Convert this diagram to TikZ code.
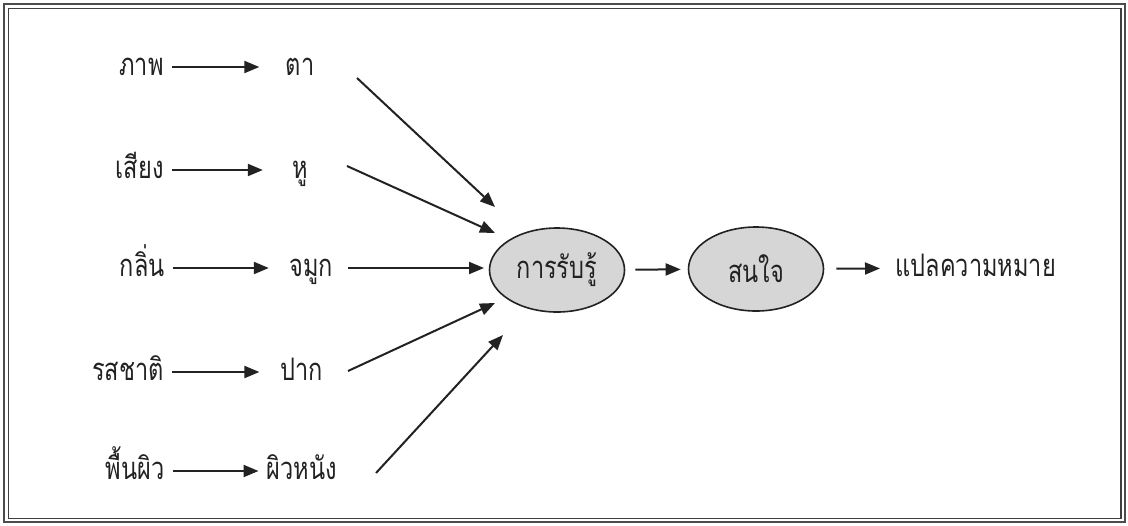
\documentclass[tikz,border=0pt]{standalone}
\usepackage{fontspec}
\newfontfamily\thaifont[Script=Thai,FakeStretch=0.76]{Loma}
\usetikzlibrary{arrows.meta,shapes.geometric}
\definecolor{ink}{HTML}{222222}
\definecolor{ovalfill}{HTML}{D6D6D6}
\tikzset{
  lbl/.style={font=\thaifont\fontsize{15.5}{18}\selectfont, text=ink, inner sep=0pt, text height=10pt, text depth=2pt},
  arr/.style={draw=ink, line width=1pt, -{Triangle[length=7.5pt,width=6pt]}},
  oval/.style={ellipse, draw=ink, line width=0.8pt, fill=ovalfill, minimum width=67.5pt, minimum height=42pt, inner sep=0pt, font=\thaifont\fontsize{15.5}{18}\selectfont, text=ink},
}
\begin{document}
\begin{tikzpicture}[x=0.5pt,y=-0.5pt]
\useasboundingbox (0,0) rectangle (1128,525);
\fill[white] (0,0) rectangle (1128,525);
% frame
\draw[draw=black!70, line width=1.1pt] (4,4) rectangle (1125,522);
\draw[draw=black!75, line width=0.6pt] (8.5,8.5) rectangle (1121,518.5);
% left column
\node[lbl, anchor=east] (s1) at (164,67) {ภาพ};
\node[lbl, anchor=east] (s2) at (164,170) {เสียง};
\node[lbl, anchor=east] (s3) at (165,268) {กลิ่น};
\node[lbl, anchor=east] (s4) at (164,372) {รสชาติ};
\node[lbl, anchor=east] (s5) at (165,471) {พื้นผิว};
% organs
\node[lbl] (o1) at (300,67) {ตา};
\node[lbl] (o2) at (300,170) {หู};
\node[lbl] (o3) at (311,268) {จมูก};
\node[lbl] (o4) at (302,372) {ปาก};
\node[lbl] (o5) at (302,471) {ผิวหนัง};
% ovals
\node[oval] (perc) at (557,270) {การรับรู้};
\node[oval] (att) at (756,269) {สนใจ};
\node[lbl, anchor=west] (mean) at (895,268) {แปลความหมาย};
% horizontal arrows
\draw[arr, shorten <=4pt, shorten >=13pt] (s1) -- (o1);
\draw[arr, shorten <=4pt, shorten >=14.5pt] (s2) -- (o2);
\draw[arr, shorten <=4pt, shorten >=10pt] (s3) -- (o3);
\draw[arr, shorten <=4pt, shorten >=10.5pt] (s4) -- (o4);
\draw[arr, shorten <=4pt, shorten >=4pt] (s5) -- (o5);
% converging arrows
\coordinate (a1) at (357,78);  \coordinate (b1) at (495,207);
\coordinate (a2) at (347,166); \coordinate (b2) at (495,233);
\coordinate (a3) at (348,268); \coordinate (b3) at (484,268);
\coordinate (a4) at (348,371); \coordinate (b4) at (495,303);
\coordinate (a5) at (376,473); \coordinate (b5) at (503,335);
\draw[arr] (a1) -- (b1);
\draw[arr] (a2) -- (b2);
\draw[arr] (a3) -- (b3);
\draw[arr] (a4) -- (b4);
\draw[arr] (a5) -- (b5);
% right arrows
\draw[arr, shorten <=5pt, shorten >=3.5pt] (perc) -- (att);
\draw[arr, shorten <=6pt, shorten >=7.5pt] (att) -- (mean);
\end{tikzpicture}
\end{document}
